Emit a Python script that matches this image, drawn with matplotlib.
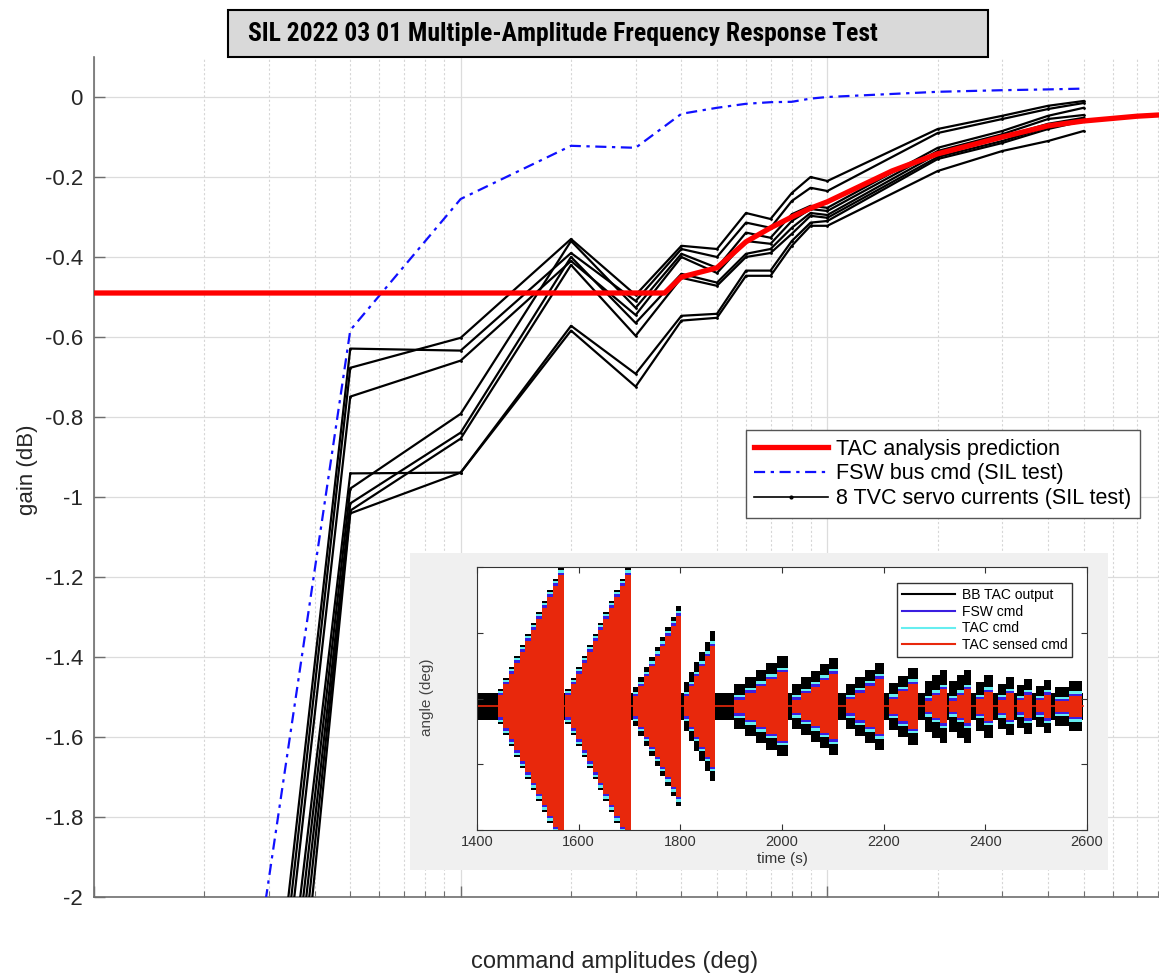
import numpy as np
import matplotlib.pyplot as plt
from matplotlib.patches import Rectangle
from matplotlib.lines import Line2D
from matplotlib.ticker import NullFormatter
from matplotlib import font_manager

plt.rcParams['font.family'] = ['Liberation Sans', 'DejaVu Sans']
plt.rcParams['axes.unicode_minus'] = False

# command amplitudes (deg) of the SIL test points
amp = [0.02, 0.05, 0.1, 0.2, 0.3, 0.4, 0.5, 0.6, 0.7, 0.8, 0.9, 1, 2, 3, 4, 5]

# FSW bus cmd gain (dB)
fsw_gain = [-3.04, -0.583, -0.255, -0.122, -0.127, -0.042, -0.027, -0.017,
            -0.013, -0.012, -0.004, 0.0, 0.013, 0.017, 0.019, 0.021]

# 8 TVC servo currents gain (dB)
servo_1 = [-3.86, -0.629, -0.634, -0.39, -0.51, -0.38, -0.40, -0.314, -0.327, -0.26, -0.227, -0.235, -0.09, -0.055, -0.03, -0.015]
servo_2 = [-3.95, -0.677, -0.602, -0.355, -0.495, -0.372, -0.38, -0.29, -0.305, -0.24, -0.20, -0.21, -0.08, -0.047, -0.022, -0.01]
servo_3 = [-4.01, -0.749, -0.659, -0.41, -0.545, -0.40, -0.44, -0.36, -0.367, -0.31, -0.28, -0.285, -0.135, -0.093, -0.055, -0.045]
servo_4 = [-4.03, -0.941, -0.939, -0.572, -0.692, -0.547, -0.542, -0.434, -0.434, -0.36, -0.314, -0.31, -0.155, -0.115, -0.08, -0.06]
servo_5 = [-4.15, -0.979, -0.792, -0.36, -0.527, -0.392, -0.427, -0.339, -0.352, -0.293, -0.272, -0.277, -0.127, -0.085, -0.047, -0.027]
servo_6 = [-4.28, -1.016, -0.839, -0.40, -0.565, -0.442, -0.464, -0.392, -0.38, -0.327, -0.29, -0.295, -0.142, -0.10, -0.067, -0.052]
servo_7 = [-4.47, -1.034, -0.854, -0.42, -0.597, -0.452, -0.472, -0.40, -0.39, -0.342, -0.297, -0.302, -0.15, -0.11, -0.075, -0.055]
servo_8 = [-4.73, -1.041, -0.939, -0.584, -0.724, -0.559, -0.552, -0.447, -0.447, -0.372, -0.322, -0.322, -0.185, -0.135, -0.11, -0.085]
servos = [servo_1, servo_2, servo_3, servo_4, servo_5, servo_6, servo_7, servo_8]

# TAC analysis prediction
pred_amp = [0.01, 0.1, 0.2, 0.3, 0.36, 0.4, 0.5, 0.6, 0.7, 0.8, 0.9, 1, 1.5, 2, 3, 4, 5, 7, 10]
pred_gain = [-0.49, -0.49, -0.49, -0.49, -0.49, -0.45, -0.427, -0.362, -0.327, -0.30,
             -0.278, -0.262, -0.185, -0.142, -0.10, -0.072, -0.06, -0.048, -0.04]

# inset: time history segments (s) and envelope peaks (deg, normalised)
seg_start = [1441, 1574, 1707, 1807, 1906, 2020, 2125, 2210, 2282, 2329, 2381, 2424, 2462, 2500, 2538]
seg_end = [1571, 1702, 1802, 1868, 2011, 2111, 2201, 2267, 2324, 2372, 2415, 2457, 2491, 2529, 2590]
seg_red = [1.0, 1.0, 0.69, 0.46, 0.26, 0.25, 0.21, 0.17, 0.13, 0.13, 0.11, 0.10, 0.09, 0.09, 0.08]
seg_black = [1.05, 1.05, 0.76, 0.57, 0.38, 0.37, 0.33, 0.29, 0.28, 0.28, 0.24, 0.22, 0.21, 0.20, 0.19]
seg_steps = [12, 12, 9, 6, 5, 5, 4, 3, 3, 3, 2, 2, 2, 2, 2]
base_level = -0.06

W, H = 1159, 975


def fbox(x0, y0, x1, y1):
    return [x0 / W, 1 - y1 / H, (x1 - x0) / W, (y1 - y0) / H]


fig = plt.figure(figsize=(W / 100, H / 100), dpi=100)

# ---- main chart ----
ax = fig.add_axes(fbox(94, 57, 1194, 897))
ax.set_xscale('log')
ax.set_xlim(0.01, 10)
ax.set_ylim(-2, 0.1)

for s in servos:
    ax.plot(amp, s, color='black', lw=1.6, marker='.', ms=2, zorder=3)
ax.plot(amp, fsw_gain, color='#1010ff', lw=1.6, ls=(0, (5, 2.5, 1.5, 2.5)), zorder=4)
ax.plot(pred_amp, pred_gain, color='#ff0000', lw=3.8, zorder=5, solid_capstyle='butt')

ax.grid(True, which='major', color='#dcdcdc', lw=0.9)
ax.grid(True, which='minor', axis='x', color='#d6d6d6', lw=0.8, ls=(0, (2, 2)))
ax.set_axisbelow(True)

yt = np.round(np.arange(-2, 0.001, 0.2), 1) + 0.0
ax.set_yticks(yt)
ax.set_yticklabels(['%g' % abs(v) if abs(v) < 1e-9 else '%g' % v for v in yt])
ax.xaxis.set_major_formatter(NullFormatter())
ax.xaxis.set_minor_formatter(NullFormatter())
ax.tick_params(which='both', direction='in', colors='#6e6e6e', labelcolor='#262626',
               labelsize=16, pad=8)
ax.tick_params(which='major', length=8, width=1)
ax.tick_params(which='minor', length=4, width=0.8)
for side in ['top', 'right']:
    ax.spines[side].set_visible(False)
for side in ['left', 'bottom']:
    ax.spines[side].set_color('#6e6e6e')
    ax.spines[side].set_linewidth(1.2)

handles = [Line2D([], [], color='#ff0000', lw=3.8),
           Line2D([], [], color='#1010ff', lw=1.6, ls=(0, (5, 2.5, 1.5, 2.5))),
           Line2D([], [], color='black', lw=1.2, marker='.', ms=4)]
labels = ['TAC analysis prediction', 'FSW bus cmd (SIL test)', '8 TVC servo currents (SIL test)']
leg = ax.legend(handles, labels, loc='upper right', bbox_to_anchor=(1140 / W, 1 - 430 / H),
                bbox_transform=fig.transFigure, fontsize=15.5, fancybox=False,
                edgecolor='#555555', framealpha=1, handlelength=3.4,
                labelspacing=0.18, borderpad=0.4, handletextpad=0.4, borderaxespad=0)
leg.get_frame().set_linewidth(1.0)

fig.text(28 / W, 1 - 470 / H, 'gain (dB)', rotation=90, fontsize=16,
         ha='center', va='center', color='#262626')
fig.text(615 / W, 1 - 962 / H, 'command amplitudes (deg)', fontsize=17,
         ha='center', va='center', color='#262626')

# ---- title box ----
names = {f.name for f in font_manager.fontManager.ttflist}
title_font = 'DejaVu Sans'
for cand in ['Liberation Sans Narrow', 'Roboto Condensed', 'Open Sans Condensed', 'DejaVu Sans Condensed']:
    if cand in names:
        title_font = cand
        break
fig.add_artist(Rectangle((228 / W, 1 - 57 / H), (988 - 228) / W, 47 / H,
                         transform=fig.transFigure, facecolor='#d9d9d9',
                         edgecolor='black', lw=1.5, zorder=5))
title = fig.text(248 / W, 1 - 34 / H, 'SIL 2022 03 01 Multiple-Amplitude Frequency Response Test',
                 fontsize=16, fontweight='bold', family=title_font, fontstretch='condensed',
                 ha='left', va='center', zorder=6)
rend = fig.canvas.get_renderer()
tw = title.get_window_extent(rend).width
title.set_fontsize(16 * 630 / tw)

# ---- inset ----
bg = fig.add_axes(fbox(410, 553, 1108, 870))
bg.set_facecolor('#f0f0f0')
bg.set_xticks([])
bg.set_yticks([])
for sp in bg.spines.values():
    sp.set_visible(False)

ins = fig.add_axes(fbox(477, 567, 1087, 830))
ins.set_xlim(1400, 2600)
ins.set_ylim(-1, 1)

ins.fill_between([1400, 2592], base_level - 0.1, base_level + 0.1, color='black', lw=0)
ins.plot([1400, 2592], [base_level, base_level], color='#e8280c', lw=1.2)
for t0, t1, pr, pb, n in zip(seg_start, seg_end, seg_red, seg_black, seg_steps):
    edges = np.linspace(t0, t1, n + 1)
    lev = pr * np.arange(1, n + 1) / n
    lev = np.r_[lev, lev[-1]]
    for off, col in [(pb - pr, 'black'), (0.035, '#66eef0'), (0.018, '#3a1ee0'), (0.0, '#e8280c')]:
        ins.fill_between(edges, base_level - lev - off, base_level + lev + off,
                         step='post', color=col, lw=0)

ins.set_xticks(np.arange(1400, 2601, 200))
ins.set_yticks([-1, -0.5, 0, 0.5, 1])
ins.set_yticklabels([])
ins.tick_params(direction='in', top=True, right=True, labelsize=10.5,
                length=4, colors='#333333')
for sp in ins.spines.values():
    sp.set_color('#333333')
fig.text(427 / W, 1 - 697 / H, 'angle (deg)', rotation=90, fontsize=11,
         ha='center', va='center', color='#444444')
fig.text(782 / W, 1 - 859 / H, 'time (s)', fontsize=11, ha='center', va='center',
         color='#333333')

ins_handles = [Line2D([], [], color='black', lw=1.5),
               Line2D([], [], color='#3a1ee0', lw=1.5),
               Line2D([], [], color='#66eef0', lw=1.5),
               Line2D([], [], color='#e8280c', lw=1.5)]
ins_leg = ins.legend(ins_handles, ['BB TAC output', 'FSW cmd', 'TAC cmd', 'TAC sensed cmd'],
                     loc='upper right', bbox_to_anchor=(1072 / W, 1 - 583 / H),
                     bbox_transform=fig.transFigure, fontsize=10, fancybox=False,
                     edgecolor='#333333', framealpha=1, handlelength=3.8,
                     labelspacing=0.2, borderpad=0.35, handletextpad=0.5, borderaxespad=0)

fig.savefig('out.png', dpi=100)
